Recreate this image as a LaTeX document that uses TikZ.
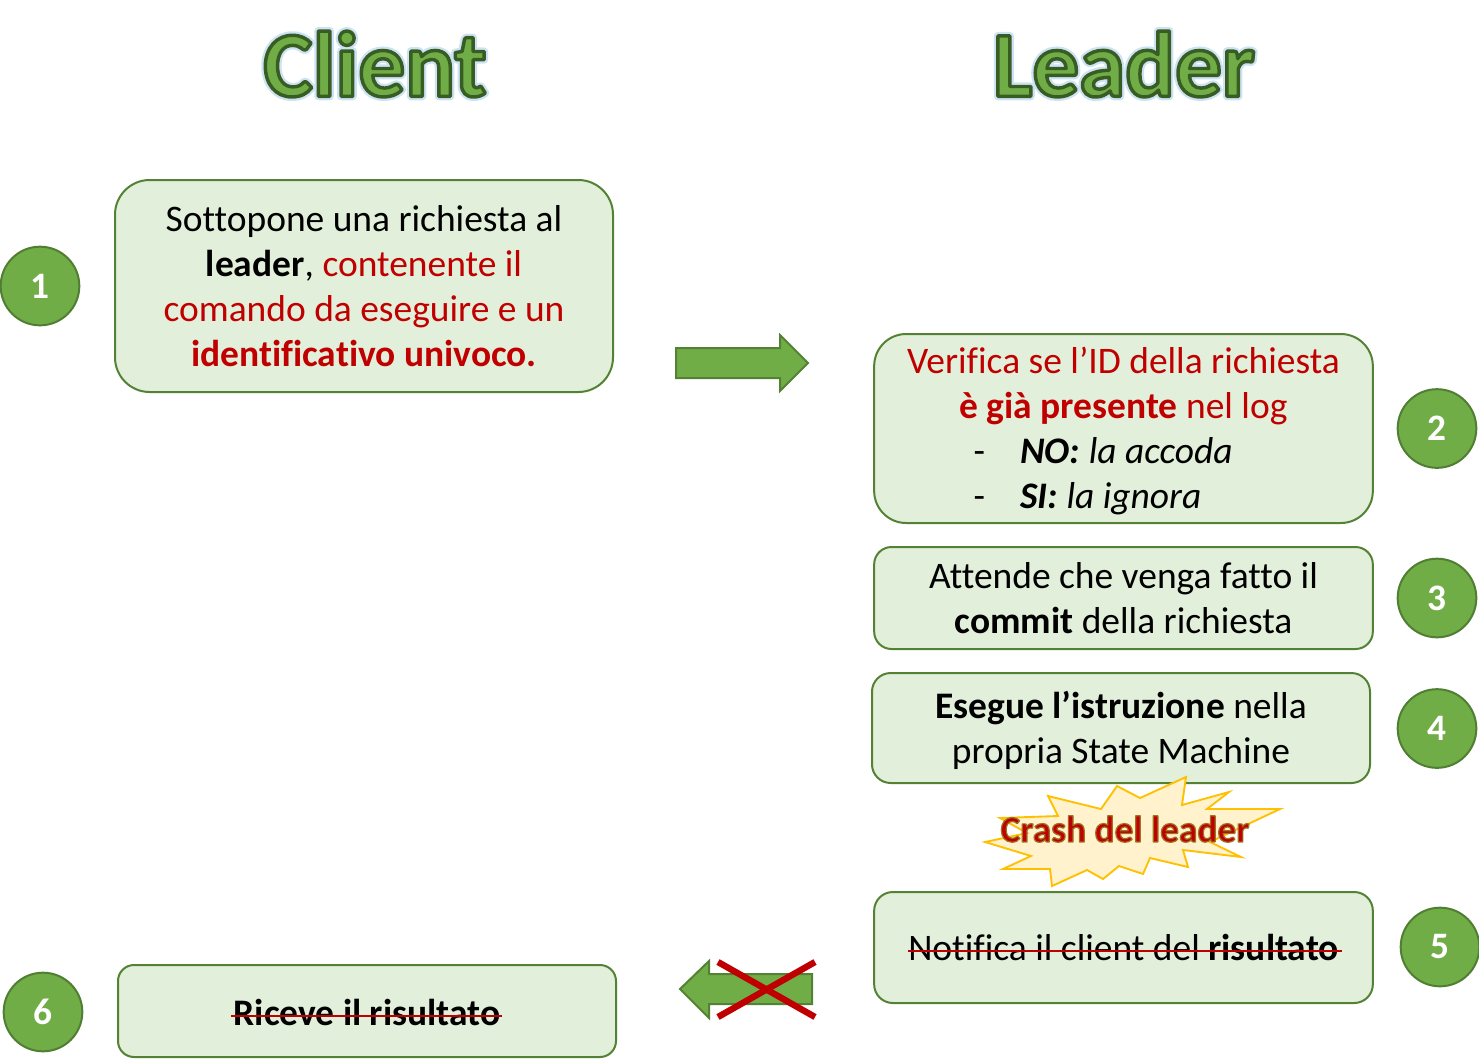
\documentclass[tikz,border=0pt]{standalone}
\usepackage{fontspec}
\setmainfont[Ligatures=NoCommon]{Carlito}
\definecolor{boxfill}{HTML}{E2EFDA}
\definecolor{boxline}{HTML}{548235}
\definecolor{dotfill}{HTML}{70AD47}
\definecolor{dotline}{HTML}{507E32}
\definecolor{redtxt}{HTML}{C00000}
\definecolor{burstfill}{HTML}{FFF2CC}
\definecolor{burstline}{HTML}{FFC000}
\newcommand{\strokepdf}[2]{\special{pdf:code 1 j 2 Tr #1 w #2 RG}}
\newcommand{\strokeoff}{\special{pdf:code 0 Tr 1 w 0 j}}
\newcommand{\titletext}[1]{\fontsize{69.8}{74}\selectfont\bfseries\color{dotfill}%
  \rlap{\strokepdf{6}{0.80 0.89 0.96}#1\strokeoff}%
  \strokepdf{2.6}{0.22 0.36 0.13}#1\strokeoff}
\newcommand{\redb}[1]{\textcolor{redtxt}{\textbf{#1}}}
\newcommand{\red}[1]{\textcolor{redtxt}{#1}}
\newcommand{\dg}[1]{\raisebox{-0.75pt}{#1}}
\newcommand{\dgl}[1]{\raisebox{-1.5pt}{#1}}
\tikzset{
  x=0.75pt,y=-0.75pt,
  boxstyle/.style={draw=boxline,fill=boxfill,line width=1.5pt,align=center,inner sep=0pt,
    font=\fontsize{28.1}{33.75}\selectfont},
  dotstyle/.style={circle,draw=dotline,fill=dotfill,line width=1.5pt,minimum size=59pt,inner sep=0pt,
    text=white,font=\fontsize{28}{33}\selectfont\bfseries},
  titlestyle/.style={inner sep=0pt},
  blockarrow/.style={draw=boxline,fill=dotfill,line width=1.5pt,miter limit=10},
  strike/.style={draw=redtxt,line width=2.2pt},
  crossbar/.style={draw=redtxt,line width=4.8pt},
}
\begin{document}
\begin{tikzpicture}
\useasboundingbox (0,0) rectangle (1479,1058);
% titles
\node[titlestyle] (tclient) at (375,64) {\titletext{Client}};
\node[titlestyle] (tleader) at (1124,64) {\titletext{Leader}};
% boxes
\node[boxstyle,rounded corners=26pt,minimum width=373.5pt,minimum height=159pt] (b1) at (364,286)
 {Sottopone una richiesta al\\ \textbf{leader}, \red{contenente il}\\ \red{comando da eseguire e un}\\ \redb{identificativo univoco.}};
\node[boxstyle,rounded corners=24pt,minimum width=374pt,minimum height=141.75pt] (b2) at (1123.5,428.5)
 {\rule{0pt}{23.5pt}\red{Verifica se l’ID della richiesta}\\ \redb{è già presente} \red{nel log}\\
  \makebox[340pt][l]{\hspace{57.5pt}-\hspace{26.5pt}\textbf{\textit{NO:}} \textit{la accoda}}\\
  \makebox[340pt][l]{\hspace{57.5pt}-\hspace{26.5pt}\textbf{\textit{SI:}} \textit{la ignora}}};
\node[boxstyle,rounded corners=13pt,minimum width=374pt,minimum height=76.5pt] (b3) at (1123.5,598)
 {Attende che venga fatto il\\ \textbf{commit} della richiesta};
\node[boxstyle,rounded corners=14pt,minimum width=373.5pt,minimum height=82.5pt] (b4) at (1121,728)
 {\rule{0pt}{23.5pt}\textbf{Esegue l’istruzione} nella\\ propria State Machine};
\node[boxstyle,rounded corners=14pt,minimum width=374pt,minimum height=83.25pt] (b5) at (1123.5,947.5)
 {Notifica il client del \textbf{risultato}};
\node[boxstyle,rounded corners=12pt,minimum width=373.5pt,minimum height=69pt] (b6) at (367,1011)
 {\rule{0pt}{22pt}\textbf{Riceve il risultato}};
% step circles
\node[dotstyle] (s1) at (40,286) {\dg{1}};
\node[dotstyle] (s2) at (1437,428.5) {\dg{2}};
\node[dotstyle] (s3) at (1437,598) {\dg{3}};
\node[dotstyle] (s4) at (1437,728.5) {\dg{4}};
\node[dotstyle] (s5) at (1440,947) {\dgl{5}};
\node[dotstyle] (s6) at (43,1012) {\dg{6}};
% burst
\draw[draw=burstline,fill=burstfill,line width=1.4pt,miter limit=10]
 (1186,777)--(1182,805)--(1229,792)--(1207,809)--(1280,809)--(1210,842)--(1241,857)--(1183,850)--(1188,867)--(1150,858)--(1143,874)--(1119,866)--(1103,879)--(1087,870)--(1052,886)--(1050,869)--(1003,869)--(1031,856)--(985,842)--(1027,833)--(1000,818)--(1058,816)--(1048,796)--(1101,809)--(1117,786)--(1140,798)--cycle;
\node[inner sep=0pt,text=redtxt,font=\fontsize{28}{33}\selectfont\bfseries] (crash) at (1125,829)
 {\strokepdf{0.9}{0.62 0.45 0.12}Crash del leader\strokeoff};
% block arrows
\draw[blockarrow] (676,348)--(780,348)--(780,335)--(808,363)--(780,391)--(780,378)--(676,378)--cycle;
\draw[blockarrow] (812,974)--(709,974)--(709,961)--(680,989)--(709,1018)--(709,1004)--(812,1004)--cycle;
% crossing out
\coordinate (c1) at (718,962); \coordinate (c2) at (815,1017);
\coordinate (c3) at (815,962); \coordinate (c4) at (718,1017);
\draw[crossbar] (c1)--(c2);
\draw[crossbar] (c3)--(c4);
% strike-through
\coordinate (n1) at (908,951); \coordinate (n2) at (1342,951);
\coordinate (r1) at (231,1016); \coordinate (r2) at (502,1016);
\draw[strike] (n1)--(n2);
\draw[strike] (r1)--(r2);
\end{tikzpicture}
\end{document}
